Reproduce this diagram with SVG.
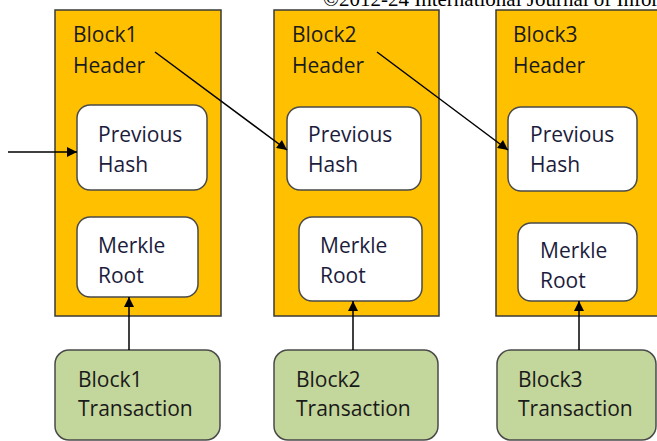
<svg xmlns="http://www.w3.org/2000/svg" width="657" height="441" viewBox="0 0 657 441">
<defs>
<style>
.hdr{fill:#FFC000;stroke:#3a3a3a;stroke-width:1.5}
.inner{fill:#FFFFFF;stroke:#4a4a4a;stroke-width:1.5}
.tx{fill:#C3D69B;stroke:#4a4a4a;stroke-width:1.5}
.t{font-family:"Open Sans","Liberation Sans",sans-serif;font-size:21px;fill:#1a1a1a}
.ti{font-family:"Open Sans","Liberation Sans",sans-serif;font-size:21px;fill:#1c1c3c}
.c{stroke:#000;stroke-width:1.5;fill:none;marker-end:url(#ah)}
.cp{font-family:"Liberation Serif","Times New Roman",serif;font-size:21px;fill:#000}
</style>
<marker id="ah" viewBox="0 0 10 10" refX="10" refY="5" markerWidth="11" markerHeight="10" markerUnits="userSpaceOnUse" orient="auto">
<path d="M0,0 L10,5 L0,10 z" fill="#000"/>
</marker>
</defs>
<rect width="657" height="441" fill="#fff"/>
<text class="cp" x="323" y="6">©2012-24 International Journal of Information</text>

<g id="block1-header">
<rect class="hdr" x="55" y="10" width="166" height="306"/>
<text class="t" x="73" y="42">Block1</text>
<text class="t" x="73" y="73">Header</text>
</g>
<g id="block1-prevhash">
<rect class="inner" x="77" y="105" width="130" height="85" rx="13"/>
<text class="ti" x="98" y="142">Previous</text>
<text class="ti" x="98" y="172">Hash</text>
</g>
<g id="block1-merkle">
<rect class="inner" x="77" y="217" width="121" height="80" rx="13"/>
<text class="ti" x="98" y="253">Merkle</text>
<text class="ti" x="98" y="283">Root</text>
</g>
<g id="block1-tx">
<rect class="tx" x="55" y="350" width="165" height="90" rx="14"/>
<text class="t" x="78" y="387">Block1</text>
<text class="t" x="78" y="416">Transaction</text>
</g>

<g id="block2-header">
<rect class="hdr" x="274" y="10" width="165" height="306"/>
<text class="t" x="292" y="42">Block2</text>
<text class="t" x="292" y="73">Header</text>
</g>
<g id="block2-prevhash">
<rect class="inner" x="287" y="107" width="134" height="83" rx="13"/>
<text class="ti" x="308" y="142">Previous</text>
<text class="ti" x="308" y="172">Hash</text>
</g>
<g id="block2-merkle">
<rect class="inner" x="299" y="217" width="123" height="84" rx="13"/>
<text class="ti" x="320" y="253">Merkle</text>
<text class="ti" x="320" y="283">Root</text>
</g>
<g id="block2-tx">
<rect class="tx" x="274" y="350" width="164" height="90" rx="14"/>
<text class="t" x="296" y="387">Block2</text>
<text class="t" x="296" y="416">Transaction</text>
</g>

<g id="block3-header">
<rect class="hdr" x="496" y="10" width="170" height="306"/>
<text class="t" x="513" y="42">Block3</text>
<text class="t" x="513" y="73">Header</text>
</g>
<g id="block3-prevhash">
<rect class="inner" x="508" y="107" width="129" height="84" rx="13"/>
<text class="ti" x="530" y="142">Previous</text>
<text class="ti" x="530" y="172">Hash</text>
</g>
<g id="block3-merkle">
<rect class="inner" x="518" y="223" width="119" height="78" rx="13"/>
<text class="ti" x="540" y="258">Merkle</text>
<text class="ti" x="540" y="288">Root</text>
</g>
<g id="block3-tx">
<rect class="tx" x="497" y="350" width="159" height="90" rx="14"/>
<text class="t" x="518" y="387">Block3</text>
<text class="t" x="518" y="416">Transaction</text>
</g>

<g id="connectors">
<line class="c" x1="8" y1="152" x2="77" y2="152"/>
<line class="c" x1="155" y1="52" x2="287" y2="150"/>
<line class="c" x1="377" y1="52" x2="508" y2="150"/>
<line class="c" x1="129" y1="350" x2="129" y2="297"/>
<line class="c" x1="353" y1="350" x2="353" y2="301"/>
<line class="c" x1="579" y1="350" x2="579" y2="301"/>
</g>
</svg>
